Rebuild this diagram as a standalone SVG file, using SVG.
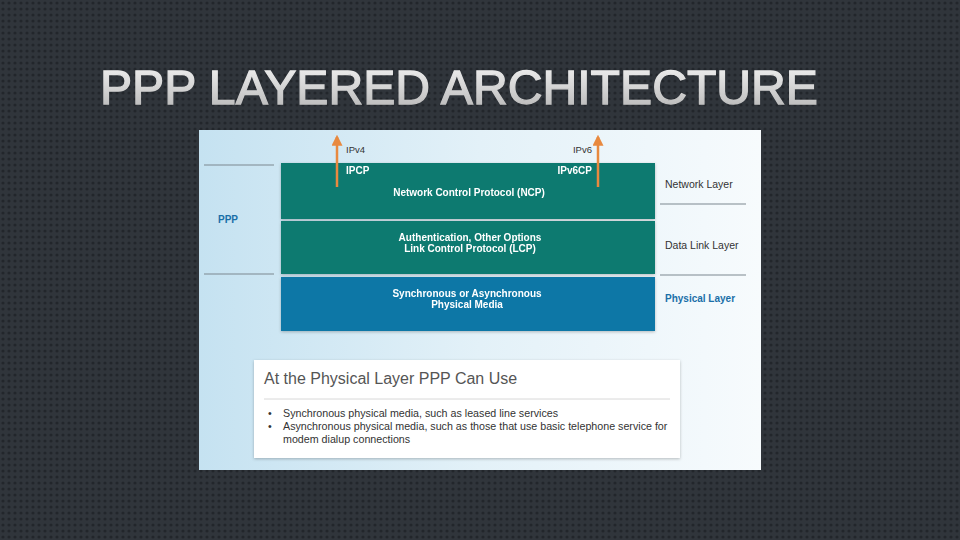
<svg xmlns="http://www.w3.org/2000/svg" width="960" height="540" viewBox="0 0 960 540">
<defs>
<pattern id="dots" width="6" height="6" patternUnits="userSpaceOnUse">
<rect width="6" height="6" fill="#30353b"/>
<circle cx="3" cy="3" r="1.6" fill="#22262b"/>
</pattern>
<linearGradient id="title" x1="0" y1="0" x2="0" y2="1">
<stop offset="0" stop-color="#f6f6f6"/>
<stop offset="1" stop-color="#b4b4b4"/>
</linearGradient>
<linearGradient id="panel" x1="0" y1="0" x2="1" y2="0">
<stop offset="0" stop-color="#c5e2f1"/>
<stop offset="0.5" stop-color="#e3f1f8"/>
<stop offset="1" stop-color="#f7fbfd"/>
</linearGradient>
<marker id="ah" viewBox="0 0 10 10" refX="8" refY="5" markerWidth="11" markerHeight="11" markerUnits="userSpaceOnUse" orient="auto">
<path d="M0,0 L10,5 L0,10 Z" fill="#e8893f"/>
</marker>
<filter id="sh" x="-5%" y="-5%" width="110%" height="115%">
<feDropShadow dx="0" dy="1" stdDeviation="1.5" flood-color="#000" flood-opacity="0.25"/>
</filter>
</defs>
<style>
.s{font-family:"Liberation Sans",Arial,sans-serif}
.w{fill:#ffffff;font-weight:bold;font-size:10px}
.d{fill:#333;font-size:10.5px}
.rl{stroke:#7d8790;stroke-width:1.2}
.ly{filter:url(#sh)}
</style>
<rect width="960" height="540" fill="url(#dots)"/>
<text class="s" x="100" y="104" font-size="49" fill="url(#title)" stroke="url(#title)" stroke-width="1.3" textLength="718" lengthAdjust="spacingAndGlyphs">PPP LAYERED ARCHITECTURE</text>

<rect x="199" y="130" width="562" height="340" fill="url(#panel)"/>

<g id="lines">
<line class="rl" x1="204" y1="165" x2="274" y2="165"/>
<line class="rl" x1="204" y1="274" x2="274" y2="274"/>
<line class="rl" x1="660" y1="204" x2="746" y2="204"/>
<line class="rl" x1="660" y1="275" x2="746" y2="275"/>
</g>

<g id="ncp" class="ly">
<rect x="281" y="163" width="374" height="56" fill="#0e7a70"/>
<text class="s w" x="346" y="174">IPCP</text>
<text class="s w" x="592" y="174" text-anchor="end">IPv6CP</text>
<text class="s w" x="469" y="196" text-anchor="middle">Network Control Protocol (NCP)</text>
</g>
<g id="lcp" class="ly">
<rect x="281" y="221" width="374" height="53" fill="#0e7a70"/>
<text class="s w" x="470" y="241" text-anchor="middle">Authentication, Other Options</text>
<text class="s w" x="470" y="252" text-anchor="middle">Link Control Protocol (LCP)</text>
</g>
<g id="phys" class="ly">
<rect x="281" y="277" width="374" height="54" fill="#0b77a6"/>
<text class="s w" x="467" y="297" text-anchor="middle">Synchronous or Asynchronous</text>
<text class="s w" x="467" y="308" text-anchor="middle">Physical Media</text>
</g>

<g id="connectors">
<line x1="337" y1="187" x2="337" y2="137" stroke="#e8893f" stroke-width="2.5" marker-end="url(#ah)"/>
<line x1="598" y1="187" x2="598" y2="137" stroke="#e8893f" stroke-width="2.5" marker-end="url(#ah)"/>
</g>

<g id="labels">
<text class="s" x="346" y="153" font-size="9.5" fill="#333">IPv4</text>
<text class="s" x="592" y="153" font-size="9.5" fill="#333" text-anchor="end">IPv6</text>
<text class="s" x="218" y="223" font-size="10" fill="#1a6fa8" font-weight="bold">PPP</text>
<text class="s d" x="665" y="188">Network Layer</text>
<text class="s d" x="665" y="249">Data Link Layer</text>
<text class="s" x="665" y="302" font-size="10" fill="#1a6fa8" font-weight="bold">Physical Layer</text>
</g>

<g id="infobox">
<rect x="254" y="360" width="426" height="98" fill="#ffffff" filter="url(#sh)"/>
<text class="s" x="264" y="384" font-size="16" fill="#555">At the Physical Layer PPP Can Use</text>
<line x1="264" y1="399" x2="670" y2="399" stroke="#d8d8d8" stroke-width="1"/>
<g class="s" font-size="10.7" fill="#333">
<text x="268" y="417">•</text>
<text x="283" y="417">Synchronous physical media, such as leased line services</text>
<text x="268" y="430">•</text>
<text x="283" y="430">Asynchronous physical media, such as those that use basic telephone service for</text>
<text x="283" y="443">modem dialup connections</text>
</g>
</g>
</svg>
